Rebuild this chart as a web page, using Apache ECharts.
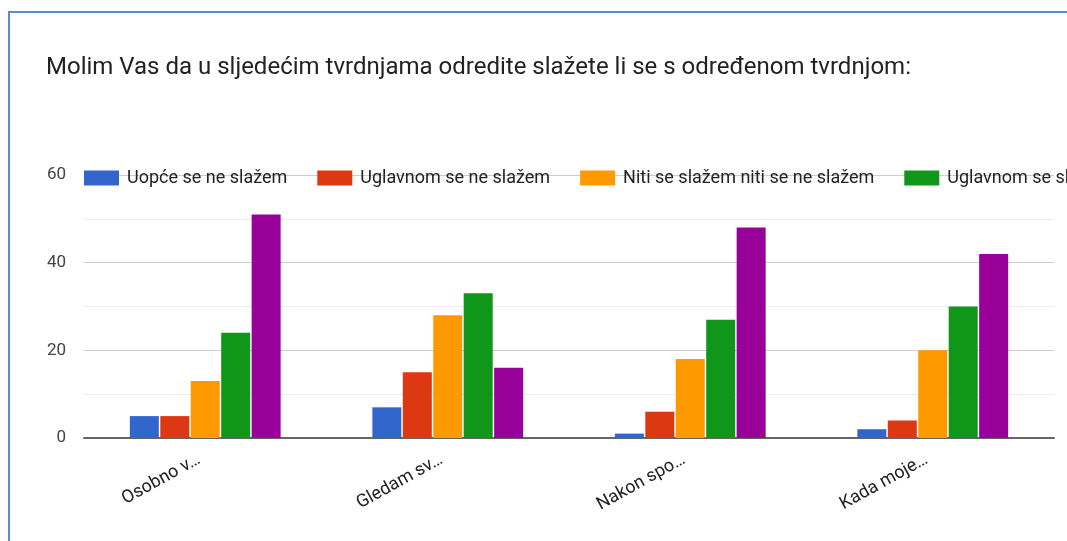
<!DOCTYPE html>
<html>
<head>
<meta charset="utf-8">
<script src="https://cdn.jsdelivr.net/npm/echarts@6/dist/echarts.min.js"></script>
<style>
html,body{margin:0;padding:0;background:#fff;}
#chart{width:1067px;height:541px;}
</style>
</head>
<body>
<div id="chart"></div>
<script>
var titleText = 'Molim Vas da u sljedećim tvrdnjama odredite slažete li se s određenom tvrdnjom:';
var categories = ['Osobno v…', 'Gledam sv…', 'Nakon spo…', 'Kada moje…'];
var seriesNames = ['Uopće se ne slažem', 'Uglavnom se ne slažem', 'Niti se slažem niti se ne slažem', 'Uglavnom se slažem', 'U potpunosti se slažem'];
var uopce = [5, 7, 1, 2];
var uglavnomNe = [5, 15, 6, 4];
var niti = [13, 28, 18, 20];
var uglavnomDa = [24, 33, 27, 30];
var potpunosti = [51, 16, 48, 42];
var colors = ['#3366cc', '#dc3912', '#ff9900', '#109618', '#990099'];
var yTicks = [0, 20, 40, 60];

var values = [uopce, uglavnomNe, niti, uglavnomDa, potpunosti];
var chart = echarts.init(document.getElementById('chart'), null, {renderer: 'canvas'});
var option = {
  animation: false,
  color: colors,
  textStyle: {fontFamily: 'Roboto'},
  title: {
    text: titleText,
    left: 41, top: 51,
    textStyle: {fontFamily: 'Roboto', fontSize: 24, fontWeight: 'normal', color: '#222'}
  },
  legend: {
    left: 84, top: 169, padding: 0,
    width: 2500,
    itemWidth: 35, itemHeight: 15, itemGap: 30,
    icon: 'rect',
    textStyle: {fontFamily: 'Roboto', fontSize: 18, color: '#222', padding: [0, 0, 0, 3]},
    data: seriesNames
  },
  grid: {left: 84, right: 13, top: 175, bottom: 103, containLabel: false},
  xAxis: {
    type: 'category',
    data: categories,
    axisLine: {lineStyle: {color: '#666', width: 2}},
    axisTick: {show: false},
    axisLabel: {rotate: 29, fontFamily: 'Roboto', fontSize: 18, color: '#222', margin: 17, interval: 0, padding: [0, 7, 0, 0]}
  },
  yAxis: {
    type: 'value',
    min: yTicks[0], max: yTicks[yTicks.length - 1], interval: 20,
    axisLine: {show: false},
    axisTick: {show: false},
    axisLabel: {fontFamily: 'Roboto', fontSize: 17, color: '#444', margin: 18},
    splitLine: {lineStyle: {color: '#cccccc', width: 1}},
    minorTick: {show: false, splitNumber: 2},
    minorSplitLine: {show: true, lineStyle: {color: '#ebebeb', width: 1}}
  },
  graphic: [{
    type: 'rect', z: 100, silent: true,
    shape: {x: 9, y: 12, width: 1200, height: 700},
    style: {fill: 'none', stroke: '#5a8ad0', lineWidth: 2}
  }],
  series: seriesNames.map(function (name, i) {
    return {
      name: name,
      type: 'bar',
      data: values[i],
      barWidth: 29,
      barGap: '5%',
      itemStyle: {color: colors[i]}
    };
  })
};
chart.setOption(option);
</script>
</body>
</html>
